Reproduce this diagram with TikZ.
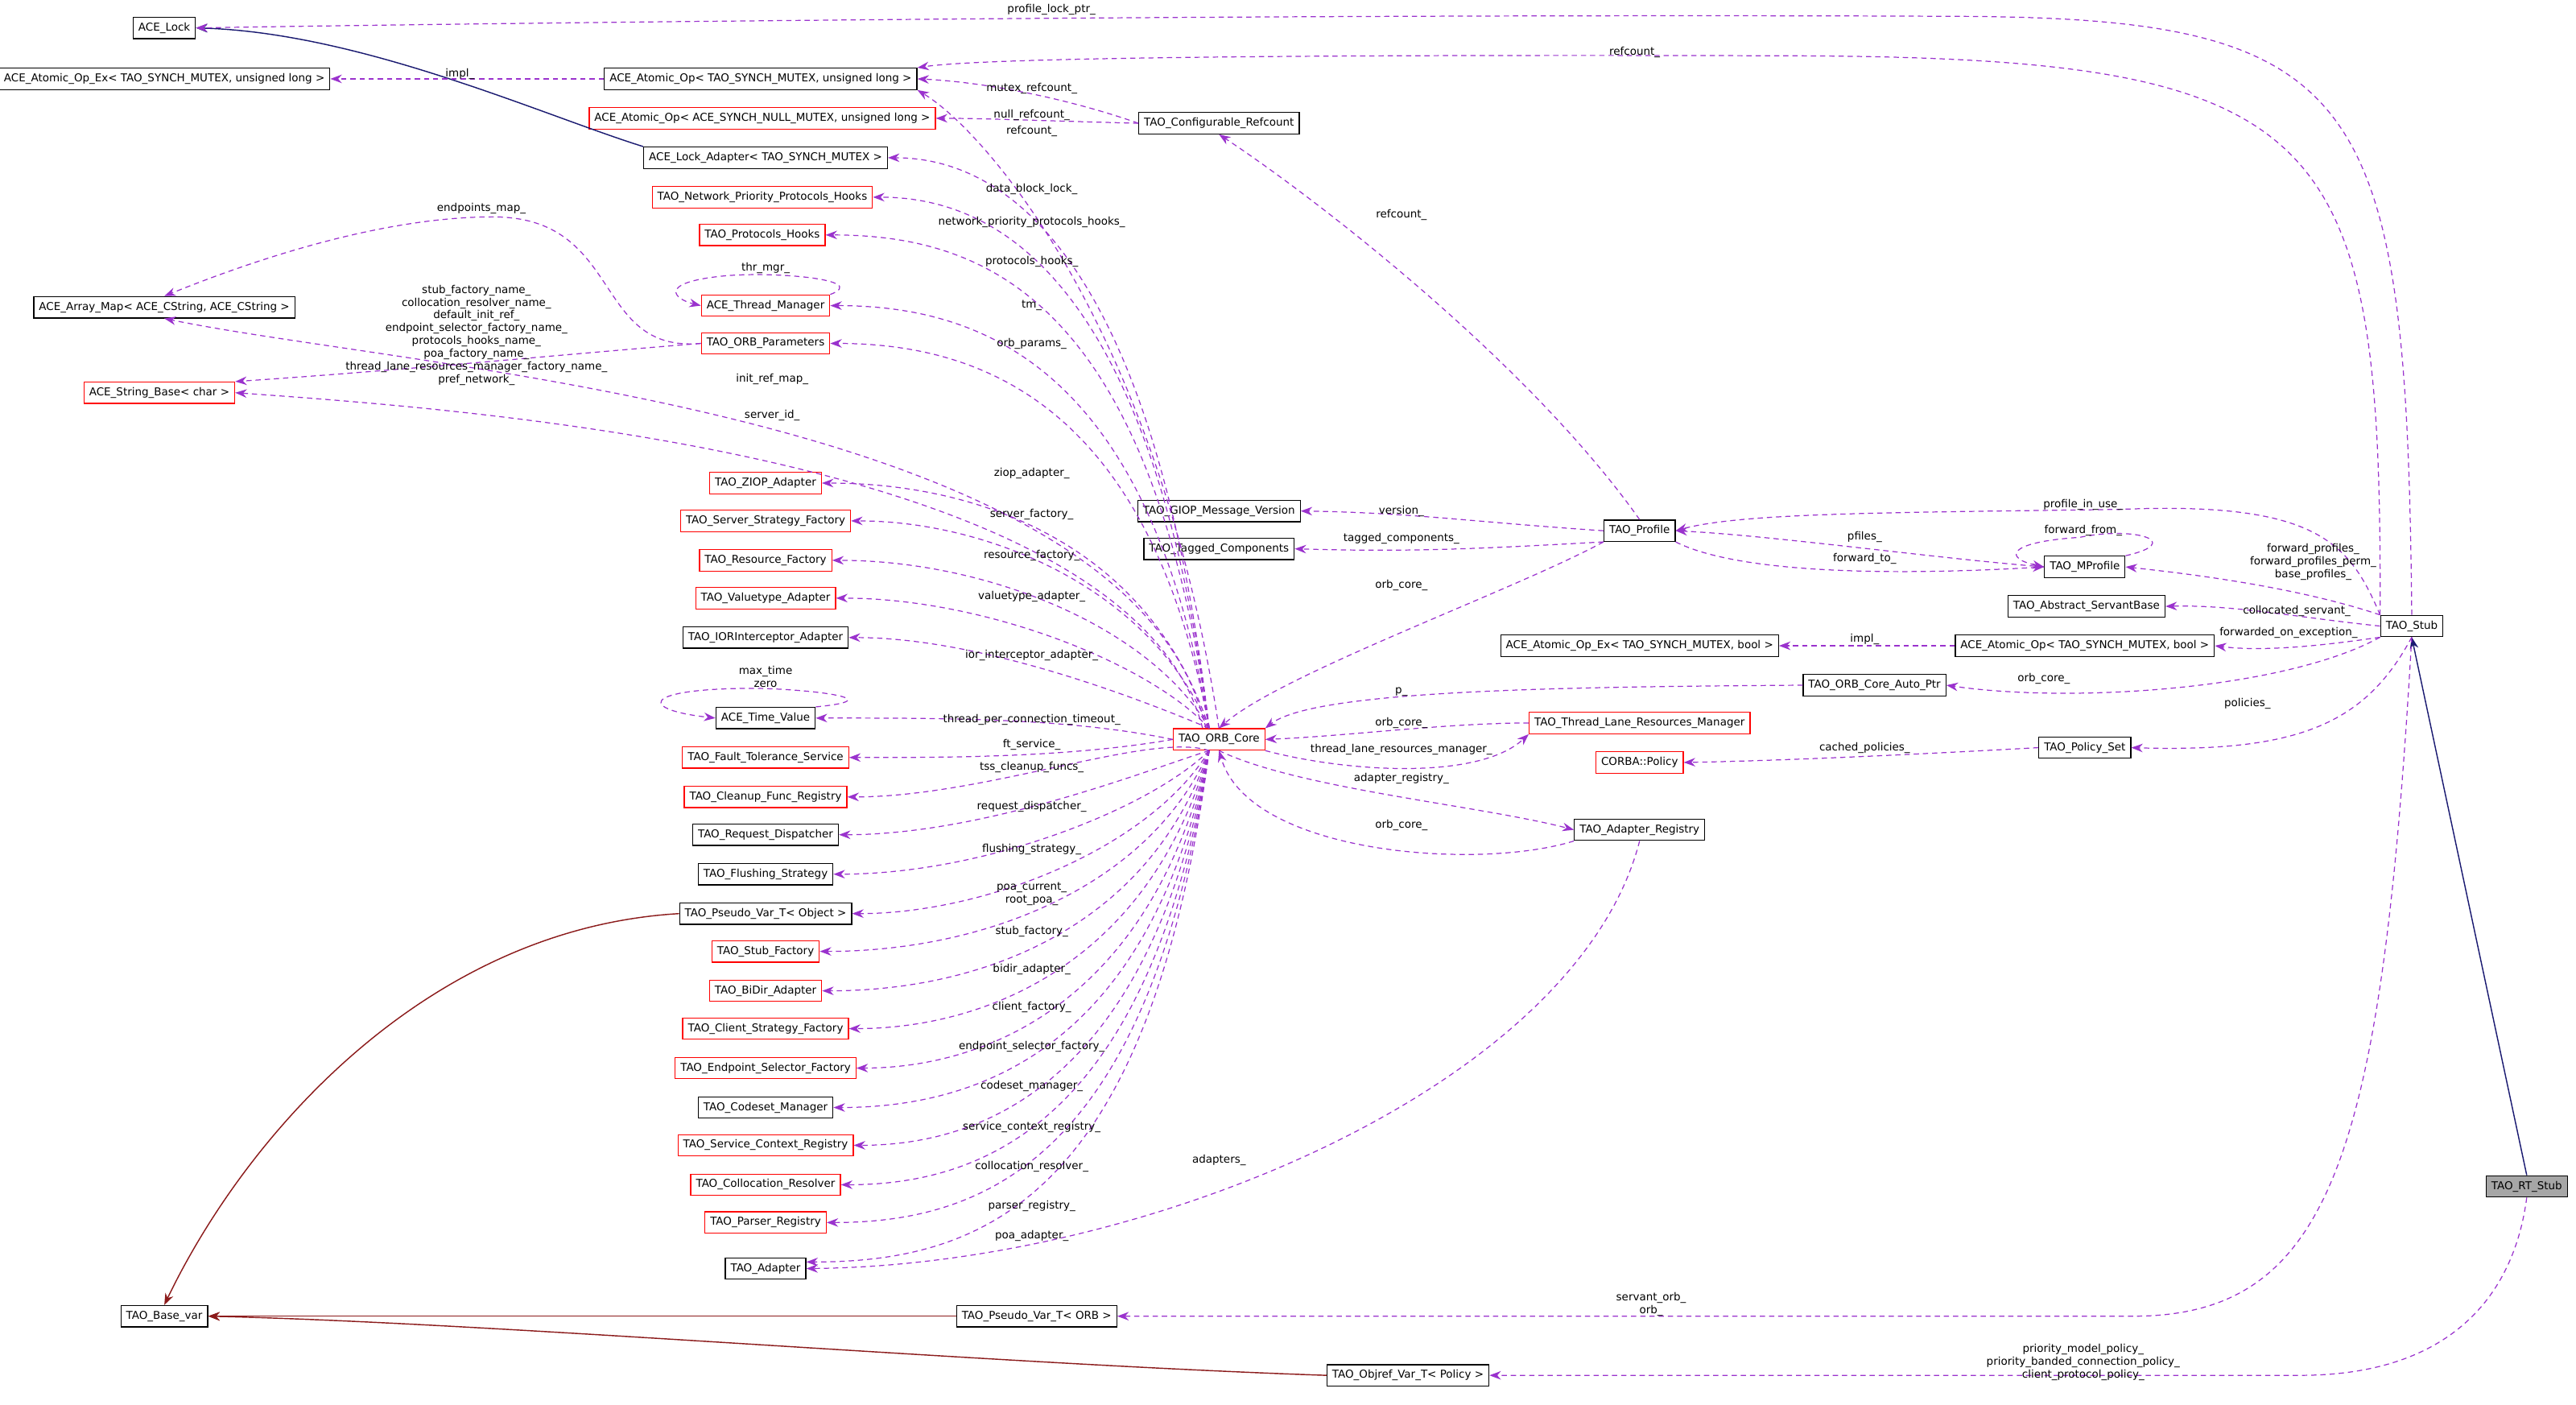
\documentclass[tikz,border=0pt]{standalone}
\usepackage{fontspec}
\newfontfamily\df{DejaVu Sans}
\usetikzlibrary{arrows.meta,calc}
\definecolor{dpur}{HTML}{9A32CD}
\definecolor{navy}{HTML}{191970}
\definecolor{fbrick}{HTML}{8B1A1A}
\newcommand\dfs{\df\fontsize{3.3pt}{3.9pt}\selectfont}
\begin{document}
\begin{tikzpicture}[x=0.5pt,y=-0.5pt,
  box/.style={draw=black,line width=0.3pt,font=\dfs,inner xsep=1.6pt,inner ysep=0pt,minimum height=6.5pt},
  rbox/.style={box,draw=red},
  gbox/.style={box,fill=black!35},
  lbl/.style={font=\dfs,inner sep=0pt,align=center},
  dep/.style={draw=dpur,line width=0.3pt,dash pattern=on 1.6pt off 1.2pt,-{Stealth[length=3.5pt,width=2.6pt]}},
  inh/.style={draw=navy,line width=0.35pt,-{Stealth[length=3.5pt,width=2.6pt]}},
  inr/.style={draw=fbrick,line width=0.35pt,-{Stealth[length=3.5pt,width=2.6pt]}}]
\useasboundingbox (0,0) rectangle (1568,855);
% left column
\node[box] (lock) at (100,17) {ACE\_Lock};
\node[box] (aoex) at (100,48) {ACE\_Atomic\_Op\_Ex< TAO\_SYNCH\_MUTEX, unsigned long >};
\node[box] (amap) at (100,187) {ACE\_Array\_Map< ACE\_CString, ACE\_CString >};
\node[rbox] (sbase) at (97,239) {ACE\_String\_Base< char >};
\node[box] (basevar) at (100,801) {TAO\_Base\_var};
% middle column
\node[box] (aop) at (463,48) {ACE\_Atomic\_Op< TAO\_SYNCH\_MUTEX, unsigned long >};
\node[rbox] (aopnull) at (464,72) {ACE\_Atomic\_Op< ACE\_SYNCH\_NULL\_MUTEX, unsigned long >};
\node[box] (lockad) at (466,96) {ACE\_Lock\_Adapter< TAO\_SYNCH\_MUTEX >};
\node[rbox] (nph) at (464,120) {TAO\_Network\_Priority\_Protocols\_Hooks};
\node[rbox] (ph) at (464,143) {TAO\_Protocols\_Hooks};
\node[rbox] (thrm) at (466,186) {ACE\_Thread\_Manager};
\node[rbox] (orbp) at (466,209) {TAO\_ORB\_Parameters};
\node[rbox] (ziop) at (466,294) {TAO\_ZIOP\_Adapter};
\node[rbox] (ssf) at (466,317) {TAO\_Server\_Strategy\_Factory};
\node[rbox] (rf) at (466,341) {TAO\_Resource\_Factory};
\node[rbox] (vta) at (466,364) {TAO\_Valuetype\_Adapter};
\node[box] (iori) at (466,388) {TAO\_IORInterceptor\_Adapter};
\node[box] (tv) at (466,437) {ACE\_Time\_Value};
\node[rbox] (fts) at (466,461) {TAO\_Fault\_Tolerance\_Service};
\node[rbox] (cfr) at (466,485) {TAO\_Cleanup\_Func\_Registry};
\node[box] (rd) at (466,508) {TAO\_Request\_Dispatcher};
\node[box] (fs) at (466,532) {TAO\_Flushing\_Strategy};
\node[box] (pvo) at (466,556) {TAO\_Pseudo\_Var\_T< Object >};
\node[rbox] (sf) at (466,579) {TAO\_Stub\_Factory};
\node[rbox] (bidir) at (466,603) {TAO\_BiDir\_Adapter};
\node[rbox] (csf) at (466,626) {TAO\_Client\_Strategy\_Factory};
\node[rbox] (esf) at (466,650) {TAO\_Endpoint\_Selector\_Factory};
\node[box] (cm) at (466,674) {TAO\_Codeset\_Manager};
\node[rbox] (scr) at (466,697) {TAO\_Service\_Context\_Registry};
\node[rbox] (cr) at (466,721) {TAO\_Collocation\_Resolver};
\node[rbox] (pr) at (466,744) {TAO\_Parser\_Registry};
\node[box] (adp) at (466,772) {TAO\_Adapter};
\node[box] (pvorb) at (631,801) {TAO\_Pseudo\_Var\_T< ORB >};
\node[box] (objref) at (857,837) {TAO\_Objref\_Var\_T< Policy >};
% right part
\node[box] (cref) at (742,75) {TAO\_Configurable\_Refcount};
\node[box] (giop) at (742,311) {TAO\_GIOP\_Message\_Version};
\node[box] (tagc) at (742,334) {TAO\_Tagged\_Components};
\node[rbox] (core) at (742,450) {TAO\_ORB\_Core};
\node[box] (prof) at (998,323) {TAO\_Profile};
\node[box] (mprof) at (1269,345) {TAO\_MProfile};
\node[box] (asb) at (1270,369) {TAO\_Abstract\_ServantBase};
\node[box] (aoexb) at (998,393) {ACE\_Atomic\_Op\_Ex< TAO\_SYNCH\_MUTEX, bool >};
\node[box] (aopb) at (1269,393) {ACE\_Atomic\_Op< TAO\_SYNCH\_MUTEX, bool >};
\node[box] (autop) at (1141,417) {TAO\_ORB\_Core\_Auto\_Ptr};
\node[rbox] (tlrm) at (998,440) {TAO\_Thread\_Lane\_Resources\_Manager};
\node[rbox] (cpol) at (998,464) {CORBA::Policy};
\node[box] (pset) at (1269,455) {TAO\_Policy\_Set};
\node[box] (areg) at (998,505) {TAO\_Adapter\_Registry};
\node[box] (stub) at (1468,381) {TAO\_Stub};
\node[gbox] (rtstub) at (1538,722) {TAO\_RT\_Stub};
% inheritance
\draw[inh] (lockad.north west) .. controls (330,70) and (220,20) .. (lock.east);
\draw[inh] (rtstub.north) -- (stub.south);
\draw[inr] (pvo.west) .. controls (260,565) and (150,690) .. (basevar.north);
\draw[inr] (pvorb.west) -- (basevar.east);
\draw[inr] (objref.west) .. controls (600,830) and (300,805) .. (basevar.east);
% stub edges
\draw[dep] (stub.north) .. controls (1465,60) and (1440,12) .. (1200,10) .. controls (800,8) and (300,14) .. (lock.east);
\node[lbl] (l1) at (640,6) {profile\_lock\_ptr\_};
\draw[dep] (stub.north west) .. controls (1450,80) and (1420,36) .. (1100,34) .. controls (800,33) and (600,35) .. (aop.north east);
\node[lbl] (l2) at (995,32) {refcount\_};
\draw[dep] (stub.north west) .. controls (1430,330) and (1410,305) .. (1290,310) .. controls (1150,312) and (1060,312) .. (prof.east);
\node[lbl] (l3) at (1268,307) {profile\_in\_use\_};
\draw[dep] (stub.north west) .. controls (1400,358) and (1340,350) .. (mprof.east);
\node[lbl] (l4) at (1408,342) {forward\_profiles\_\\forward\_profiles\_perm\_\\base\_profiles\_};
\draw[dep] (stub.west) .. controls (1400,376) and (1360,368) .. (asb.east);
\node[lbl] (l5) at (1398,372) {collocated\_servant\_};
\draw[dep] (stub.south west) .. controls (1420,392) and (1380,397) .. (aopb.east);
\node[lbl] (l6) at (1393,385) {forwarded\_on\_exception\_};
\draw[dep] (stub.south west) .. controls (1390,420) and (1260,428) .. (autop.east);
\node[lbl] (l7) at (1244,413) {orb\_core\_};
\draw[dep] (stub.south) .. controls (1440,440) and (1400,458) .. (pset.east);
\node[lbl] (l8) at (1368,428) {policies\_};
\draw[dep] (stub.south) .. controls (1450,700) and (1420,800) .. (1300,801) -- (pvorb.east);
\node[lbl] (l9) at (1005,794) {servant\_orb\_\\orb\_};
\draw[dep] (rtstub.south) .. controls (1530,790) and (1490,837) .. (1400,837) -- (objref.east);
\node[lbl] (l10) at (1268,829) {priority\_model\_policy\_\\priority\_banded\_connection\_policy\_\\client\_protocol\_policy\_};
% profile edges
\draw[dep] (prof.west) .. controls (900,318) and (860,312) .. (giop.east);
\node[lbl] (l11) at (853,311) {version\_};
\draw[dep] (prof.south west) .. controls (900,334) and (860,336) .. (tagc.east);
\node[lbl] (l12) at (853,328) {tagged\_components\_};
\draw[dep] (prof.south west) .. controls (920,360) and (780,410) .. (core.north);
\node[lbl] (l13) at (853,356) {orb\_core\_};
\draw[dep] (prof.north) .. controls (930,220) and (800,120) .. (cref.south);
\node[lbl] (l14) at (853,131) {refcount\_};
\draw[dep] (mprof.west) .. controls (1180,340) and (1080,326) .. (prof.east);
\node[lbl] (l15) at (1135,327) {pfiles\_};
\draw[dep] (prof.south east) .. controls (1060,350) and (1160,350) .. (mprof.west);
\node[lbl] (l16) at (1135,340) {forward\_to\_};
\draw[dep] (mprof.north east) .. controls (1330,330) and (1300,320) .. (1266,327) .. controls (1220,330) and (1220,340) .. (mprof.west);
\node[lbl] (l17) at (1268,323) {forward\_from\_};
\draw[dep] (aopb.west) -- (aoexb.east);
\node[lbl] (l18) at (1135,389) {impl\_};
\draw[dep] (autop.west) .. controls (950,418) and (800,420) .. (core.north east);
\node[lbl] (l19) at (853,421) {p\_};
\draw[dep] (tlrm.west) .. controls (880,440) and (820,448) .. (core.east);
\node[lbl] (l20) at (853,440) {orb\_core\_};
\draw[dep] (core.south east) .. controls (820,470) and (900,475) .. (tlrm.south west);
\node[lbl] (l21) at (853,456) {thread\_lane\_resources\_manager\_};
\draw[dep] (pset.west) .. controls (1150,460) and (1080,463) .. (cpol.east);
\node[lbl] (l22) at (1135,455) {cached\_policies\_};
\draw[dep] (core.south) .. controls (790,480) and (900,490) .. (areg.west);
\node[lbl] (l23) at (853,474) {adapter\_registry\_};
\draw[dep] (areg.south west) .. controls (900,530) and (760,520) .. (core.south);
\node[lbl] (l24) at (853,502) {orb\_core\_};
\draw[dep] (areg.south) .. controls (960,660) and (700,770) .. (adp.east);
\node[lbl] (l25) at (742,706) {adapters\_};
% top
\draw[dep] (aop.west) -- (aoex.east);
\node[lbl] (l26) at (280,45) {impl\_};
\draw[dep] (cref.west) .. controls (650,60) and (600,50) .. (aop.east);
\node[lbl] (l27) at (628,54) {mutex\_refcount\_};
\draw[dep] (cref.west) .. controls (650,74) and (600,72) .. (aopnull.east);
\node[lbl] (l28) at (628,70) {null\_refcount\_};
\draw[dep] (core.north) .. controls (705,200) and (600,80) .. (aop.south east);
\node[lbl] (l29) at (628,80) {refcount\_};
% fan from ORB core
\foreach \n/\yy in {lockad/96,nph/120,ph/143,thrm/186,orbp/209,ziop/294,ssf/317,rf/341,vta/364,iori/388}
  \draw[dep] (core.north) ++(-6,0) .. controls (700,\yy+40) and (600,\yy) .. (\n.east);
\foreach \n/\yy in {tv/437,fts/461}
  \draw[dep] (core.west) .. controls (650,\yy) and (580,\yy) .. (\n.east);
\foreach \n/\yy in {cfr/485,rd/508,fs/532,pvo/556,sf/579,bidir/603,csf/626,esf/650,cm/674,scr/697,cr/721,pr/744,adp/768}
  \draw[dep] (core.south) ++(-6,0) .. controls (700,\yy-40) and (600,\yy) .. (\n.east |- 0,\yy);
\draw[dep] (core.north) ++(-8,0) .. controls (690,250) and (250,225) .. (amap.south);
\node[lbl] (l30) at (470,231) {init\_ref\_map\_};
\draw[dep] (core.north) ++(-10,0) .. controls (690,280) and (300,250) .. (sbase.east);
\node[lbl] (l31) at (470,253) {server\_id\_};
\draw[dep] (orbp.west) .. controls (360,215) and (380,132) .. (300,132) .. controls (230,132) and (150,160) .. (amap.north);
\node[lbl] (l32) at (293,127) {endpoints\_map\_};
\draw[dep] (orbp.west) .. controls (350,215) and (250,225) .. (sbase.north east);
\node[lbl] (l33) at (290,204) {stub\_factory\_name\_\\collocation\_resolver\_name\_\\default\_init\_ref\_\\endpoint\_selector\_factory\_name\_\\protocols\_hooks\_name\_\\poa\_factory\_name\_\\thread\_lane\_resources\_manager\_factory\_name\_\\pref\_network\_};
\draw[dep] (thrm.north east) .. controls (530,170) and (470,165) .. (440,168) .. controls (400,172) and (410,182) .. (thrm.west);
\node[lbl] (l34) at (466,163) {thr\_mgr\_};
\draw[dep] (tv.north east) .. controls (550,425) and (480,418) .. (450,419) .. controls (390,420) and (390,432) .. (tv.west);
\node[lbl] (l35) at (466,412) {max\_time\\zero};
\node[lbl] (f1) at (628,115) {data\_block\_lock\_};
\node[lbl] (f2) at (628,135) {network\_priority\_protocols\_hooks\_};
\node[lbl] (f3) at (628,159) {protocols\_hooks\_};
\node[lbl] (f4) at (628,186) {tm\_};
\node[lbl] (f5) at (628,209) {orb\_params\_};
\node[lbl] (f6) at (628,288) {ziop\_adapter\_};
\node[lbl] (f7) at (628,313) {server\_factory\_};
\node[lbl] (f8) at (628,338) {resource\_factory\_};
\node[lbl] (f9) at (628,363) {valuetype\_adapter\_};
\node[lbl] (f10) at (628,399) {ior\_interceptor\_adapter\_};
\node[lbl] (f11) at (628,438) {thread\_per\_connection\_timeout\_};
\node[lbl] (f12) at (628,453) {ft\_service\_};
\node[lbl] (f13) at (628,467) {tss\_cleanup\_funcs\_};
\node[lbl] (f14) at (628,491) {request\_dispatcher\_};
\node[lbl] (f15) at (628,517) {flushing\_strategy\_};
\node[lbl] (f16) at (628,544) {poa\_current\_\\root\_poa\_};
\node[lbl] (f17) at (628,567) {stub\_factory\_};
\node[lbl] (f18) at (628,590) {bidir\_adapter\_};
\node[lbl] (f19) at (628,613) {client\_factory\_};
\node[lbl] (f20) at (628,637) {endpoint\_selector\_factory\_};
\node[lbl] (f21) at (628,661) {codeset\_manager\_};
\node[lbl] (f22) at (628,686) {service\_context\_registry\_};
\node[lbl] (f23) at (628,710) {collocation\_resolver\_};
\node[lbl] (f24) at (628,734) {parser\_registry\_};
\node[lbl] (f25) at (628,752) {poa\_adapter\_};
\end{tikzpicture}
\end{document}
